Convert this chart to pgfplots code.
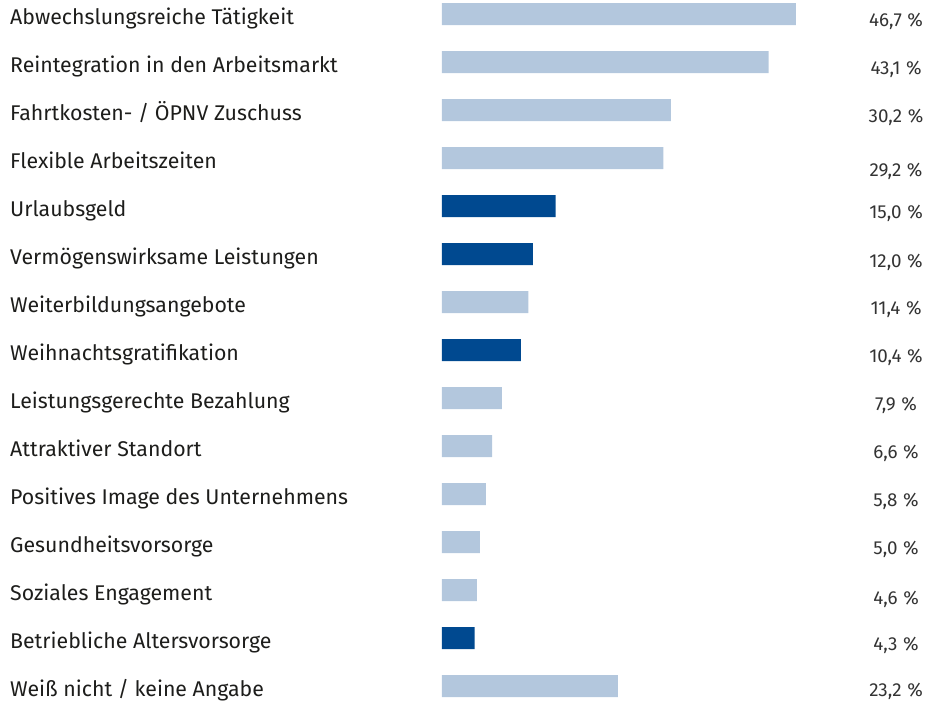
\documentclass[border=0pt]{standalone}
\usepackage{pgfplots}
\pgfplotsset{compat=1.18}
\usepackage{pgfplotstable}
\usepackage{fontspec}
\setmainfont{Fira Sans}
\definecolor{lightbar}{HTML}{B3C7DD}
\definecolor{darkbar}{HTML}{004990}
\definecolor{labtext}{HTML}{1D1D1B}
\definecolor{valtext}{HTML}{333333}
\pgfplotstableread{
y v dy
0 46.7 0
1 43.1 0
2 30.2 0
3 29.2 6
4 15.0 0
5 12.0 1
6 11.4 0
7 10.4 0
8 7.9 0
9 6.6 0
10 5.8 0
11 5.0 0
12 4.6 2
13 4.3 0
14 23.2 -2.5
}\vals
\begin{document}
\begin{tikzpicture}
\begin{axis}[
  scale only axis,
  width=488pt, height=701pt,
  xmin=0, xmax=64.38,
  ymin=-0.2917, ymax=14.3125,
  y dir=reverse,
  axis line style={draw=none},
  major tick length=0pt,
  xtick=\empty,
  ytick={0,...,14},
  yticklabels={Abwechslungsreiche Tätigkeit,Reintegration in den Arbeitsmarkt,Fahrtkosten- / ÖPNV Zuschuss,Flexible Arbeitszeiten,Urlaubsgeld,Vermögenswirksame Leistungen,Weiterbildungsangebote,Weihnachtsgratifikation,Leistungsgerechte Bezahlung,Attraktiver Standort,Positives Image des Unternehmens,Gesundheitsvorsorge,Soziales Engagement,Betriebliche Altersvorsorge,Weiß nicht / keine Angabe},
  yticklabel style={anchor=base west, inner sep=0pt, xshift=-432pt, yshift=-10.5pt, font=\fontsize{21.3}{24}\selectfont, text=labtext},
  clip=false,
]
\addplot[xbar, bar width=22pt, bar shift=0pt, fill=lightbar, draw=none] coordinates {
(46.7,0) (43.1,1) (30.2,2) (29.2,3) (11.4,6) (7.9,8) (6.6,9) (5.8,10) (5.0,11) (4.6,12) (23.2,14)};
\addplot[xbar, bar width=22pt, bar shift=0pt, fill=darkbar, draw=none] coordinates {
(15.0,4) (12.0,5) (10.4,7) (4.3,13)};
\addplot[only marks, mark=none,
  visualization depends on={\thisrow{dy} \as \dy},
  point meta=\thisrow{v},
  nodes near coords={\pgfmathprintnumber[fixed,fixed zerofill,precision=1,use comma,assume math mode=true]{\pgfplotspointmeta}\hspace{0.3em}\%},
  every node near coord/.append style={anchor=base, inner sep=0pt, yshift=-12.5pt-\dy pt, font=\fontsize{18.8}{21}\selectfont, text=valtext},
] table[x expr=59.9, y=y] {\vals};
\end{axis}
\pgfresetboundingbox
\path ([xshift=-442pt]current axis.south west) rectangle (current axis.north east);
\end{tikzpicture}
\end{document}
